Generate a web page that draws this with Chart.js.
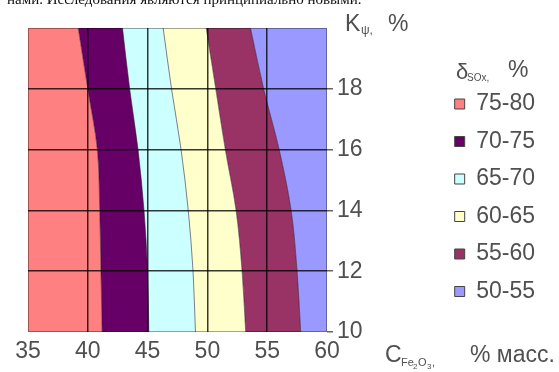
<!DOCTYPE html>
<html>
<head>
<meta charset="utf-8">
<script src="https://cdn.jsdelivr.net/npm/chart.js@4/dist/chart.umd.min.js"></script>
<style>
  html, body { margin: 0; padding: 0; background: #fff; }
  #wrap { position: relative; width: 559px; height: 372px; overflow: hidden; }
  #wrap canvas { position: absolute; left: 0; top: 0; }
  #note { position: absolute; left: 7px; top: -9px; font: 15px/16px "Liberation Serif", serif; color: #111; white-space: nowrap; }
</style>
</head>
<body>
<div id="wrap">
  <canvas id="c" width="559" height="372"></canvas>
  <div id="note">нами. Исследования являются принципиально новыми.</div>
</div>
<script>
// K_psi levels (y) at which the iso-lines are sampled
const kPsi = [10, 12, 14, 16, 18, 20];
// C(Fe2O3), % mass, of each δSOx iso-line at those K_psi levels
const iso75 = [41.2, 41.1, 41.0, 40.8, 40.0, 39.2];
const iso70 = [45.1, 45.0, 44.7, 44.2, 43.5, 42.9];
const iso65 = [49.0, 48.8, 48.4, 47.8, 47.0, 46.3];
const iso60 = [53.2, 52.9, 52.4, 51.5, 50.7, 49.9];
const iso55 = [57.8, 57.5, 57.0, 56.0, 54.7, 53.6];

const bandLabels = ['75-80', '70-75', '65-70', '60-65', '55-60', '50-55'];
const bandColors = ['#FF8080', '#660066', '#CCFFFF', '#FFFFCC', '#993366', '#9999FF'];

const xTicks = [35, 40, 45, 50, 55, 60];
const yTicks = [10, 12, 14, 16, 18];
const xMin = 35, xMax = 60, yMin = 10, yMax = 20;

const FONT = '"Liberation Sans", Arial, sans-serif';
const TEXT = '#505050';
const GRID = 'rgba(0,0,0,0.78)';
const EDGE = 'rgba(40,20,50,0.55)';

const pts = xs => xs.map((x, i) => ({ x, y: kPsi[i] }));

// each band is bounded on its right by one iso-line and filled leftwards to the previous one;
// the first band reaches the left edge, the last band reaches the right edge
const bandLines = [iso75, iso70, iso65, iso60, iso55, iso55];
const bandFill = [{ value: xMin }, '-1', '-1', '-1', '-1', { value: xMax }];

const datasets = bandLabels.map((label, i) => ({
  label,
  data: pts(bandLines[i]),
  backgroundColor: bandColors[i],
  borderColor: EDGE,
  borderWidth: i === 5 ? 0 : 1,
  fill: bandFill[i]
}));

function drawRuns(ctx, runs) {
  for (const r of runs) {
    ctx.font = r.size + 'px ' + FONT;
    ctx.fillText(r.t, r.x, r.y);
  }
}

const frameAndTitles = {
  id: 'frameAndTitles',
  afterDraw(chart) {
    const { ctx, chartArea: a } = chart;
    ctx.save();
    ctx.strokeStyle = 'rgba(0,0,0,0.35)';
    ctx.lineWidth = 1;
    ctx.strokeRect(a.left + 0.5, a.top + 0.5, a.right - a.left - 1, a.bottom - a.top - 1);

    ctx.fillStyle = TEXT;
    ctx.textBaseline = 'alphabetic';
    ctx.textAlign = 'left';
    // value axis title: K_psi, %
    drawRuns(ctx, [
      { t: 'K', size: 23, x: 345, y: 31 },
      { t: 'ψ,', size: 12, x: 361, y: 34 },
      { t: '%', size: 23, x: 388, y: 31 }
    ]);
    // legend title: δ_SOx, %
    drawRuns(ctx, [
      { t: 'δ', size: 22, x: 456, y: 79 },
      { t: 'SOx,', size: 10, x: 467, y: 81 },
      { t: '%', size: 23, x: 508, y: 77 }
    ]);
    // horizontal axis title: C_Fe2O3, % масс.
    drawRuns(ctx, [
      { t: 'C', size: 23, x: 385, y: 362 },
      { t: 'Fe', size: 11, x: 401, y: 366 },
      { t: '2', size: 8, x: 413, y: 369 },
      { t: 'O', size: 11, x: 418, y: 366 },
      { t: '3', size: 8, x: 427, y: 369 },
      { t: ',', size: 11, x: 432, y: 366 },
      { t: '% масс.', size: 23, x: 470, y: 362 }
    ]);
    ctx.restore();
  }
};

new Chart(document.getElementById('c'), {
  type: 'line',
  data: { datasets },
  options: {
    responsive: false,
    animation: false,
    devicePixelRatio: 1,
    indexAxis: 'y',
    layout: { padding: { left: 28, top: 28, right: 14, bottom: 0 } },
    elements: {
      point: { radius: 0, hoverRadius: 0 },
      line: { cubicInterpolationMode: 'monotone' }
    },
    scales: {
      x: {
        type: 'linear', min: xMin, max: xMax,
        afterBuildTicks: s => { s.ticks = xTicks.map(v => ({ value: v })); },
        afterFit: s => { s.height = 40; },
        ticks: { color: TEXT, font: { family: FONT, size: 23 }, padding: 6, maxRotation: 0 },
        grid: {
          z: 1,
          color: c => (c.tick && (c.tick.value === xMin || c.tick.value === xMax)) ? 'rgba(0,0,0,0)' : GRID,
          lineWidth: 1.5, drawTicks: false
        },
        border: { display: false }
      },
      y: {
        type: 'linear', position: 'right', min: yMin, max: yMax,
        afterBuildTicks: s => { s.ticks = yTicks.map(v => ({ value: v })); },
        afterFit: s => {
          const ch = s.chart;
          s.width = ch.width - 14 - ch.legend.width - 327;
        },
        ticks: { color: TEXT, font: { family: FONT, size: 23 }, padding: 4 },
        grid: {
          z: 1,
          color: c => (c.tick && c.tick.value === yMin) ? 'rgba(0,0,0,0)' : GRID,
          tickColor: 'rgba(0,0,0,0.6)',
          lineWidth: 1.5, tickLength: 6
        },
        border: { display: false }
      }
    },
    plugins: {
      filler: { drawTime: 'beforeDatasetsDraw' },
      tooltip: { enabled: false },
      legend: {
        position: 'right',
        align: 'start',
        title: { display: true, text: ' ', font: { size: 10, lineHeight: 1 }, padding: { top: 0, bottom: 40 } },
        labels: {
          boxWidth: 10, boxHeight: 10, padding: 14.5,
          color: TEXT, font: { family: FONT, size: 23 },
          generateLabels: chart => chart.data.datasets.map((d, i) => ({
            text: d.label, fillStyle: d.backgroundColor, strokeStyle: '#444',
            lineWidth: 1, hidden: false, datasetIndex: i, fontColor: TEXT
          }))
        }
      }
    }
  },
  plugins: [frameAndTitles]
});
</script>
</body>
</html>
